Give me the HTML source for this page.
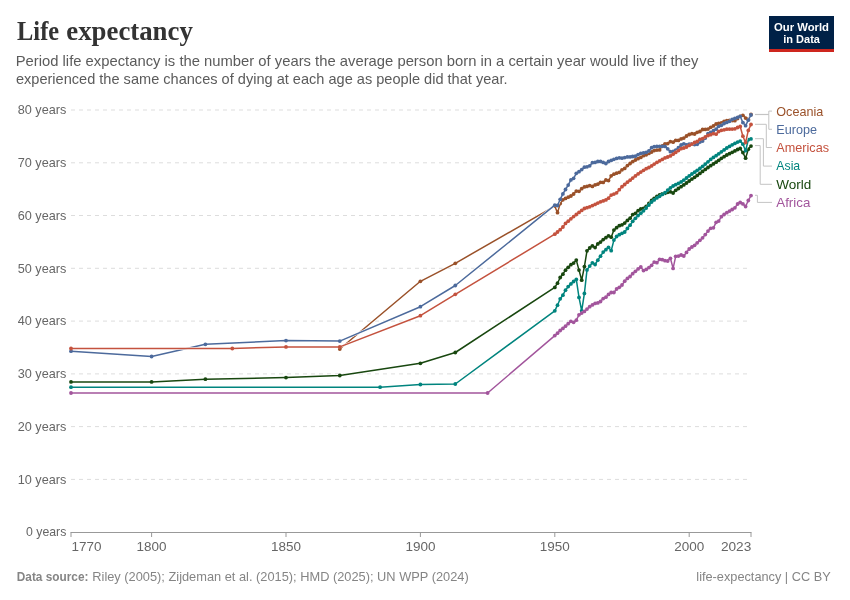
<!DOCTYPE html>
<html><head><meta charset="utf-8"><title>Life expectancy</title>
<style>
html,body{margin:0;padding:0;background:#fff;}
body{width:850px;height:600px;overflow:hidden;font-family:"Liberation Sans",sans-serif;}
svg{display:block;will-change:transform;}
text{font-family:"Liberation Sans",sans-serif;}
.serif{font-family:"Liberation Serif",serif;}
</style></head><body>
<svg width="850" height="600" viewBox="0 0 850 600">
<rect width="850" height="600" fill="#ffffff"/>
<g class="serif" font-size="27.5" font-weight="bold" fill="#333333"><text class="serif" x="17.1" y="40" textLength="42" lengthAdjust="spacingAndGlyphs">Life</text><text class="serif" x="66.3" y="40" textLength="126.5" lengthAdjust="spacingAndGlyphs">expectancy</text></g>
<text x="15.7" y="66" font-size="15" fill="#5b5b5b" textLength="682.8" lengthAdjust="spacingAndGlyphs">Period life expectancy is the number of years the average person born in a certain year would live if they</text>
<text x="15.9" y="84" font-size="15" fill="#5b5b5b" textLength="491.6" lengthAdjust="spacingAndGlyphs">experienced the same chances of dying at each age as people did that year.</text>
<g><rect x="769" y="16" width="65" height="36" fill="#002147"/><rect x="769" y="49" width="65" height="3" fill="#ce261e"/><text x="801.5" y="30.8" font-size="11.7" font-weight="bold" fill="#fff" text-anchor="middle" textLength="55" lengthAdjust="spacingAndGlyphs">Our World</text><text x="801.6" y="42.6" font-size="11.7" font-weight="bold" fill="#fff" text-anchor="middle" textLength="36.7" lengthAdjust="spacingAndGlyphs">in Data</text></g>
<g stroke="#dddddd" stroke-width="1" stroke-dasharray="4,4" fill="none"><path d="M71,479.4 H751"/><path d="M71,426.6 H751"/><path d="M71,373.9 H751"/><path d="M71,321.1 H751"/><path d="M71,268.3 H751"/><path d="M71,215.5 H751"/><path d="M71,162.8 H751"/><path d="M71,110 H751"/></g>
<g font-size="13.5" fill="#666666" text-anchor="end"><text x="66.3" y="536" textLength="40.3" lengthAdjust="spacingAndGlyphs">0 years</text><text x="66.3" y="484" textLength="48.6" lengthAdjust="spacingAndGlyphs">10 years</text><text x="66.3" y="431" textLength="48.6" lengthAdjust="spacingAndGlyphs">20 years</text><text x="66.3" y="378" textLength="48.6" lengthAdjust="spacingAndGlyphs">30 years</text><text x="66.3" y="325" textLength="48.6" lengthAdjust="spacingAndGlyphs">40 years</text><text x="66.3" y="273" textLength="48.6" lengthAdjust="spacingAndGlyphs">50 years</text><text x="66.3" y="220" textLength="48.6" lengthAdjust="spacingAndGlyphs">60 years</text><text x="66.3" y="167" textLength="48.6" lengthAdjust="spacingAndGlyphs">70 years</text><text x="66.3" y="114" textLength="48.6" lengthAdjust="spacingAndGlyphs">80 years</text></g>
<g stroke="#999999" stroke-width="1" fill="none"><path d="M70.5,532.5 H751.5"/><path d="M71,532.5 V537"/><path d="M151.6,532.5 V537"/><path d="M286,532.5 V537"/><path d="M420.4,532.5 V537"/><path d="M554.8,532.5 V537"/><path d="M689.2,532.5 V537"/><path d="M751,532.5 V537"/></g>
<g font-size="13.5" fill="#666666"><text x="71.6" y="551" text-anchor="start" textLength="30.0" lengthAdjust="spacingAndGlyphs">1770</text><text x="151.6" y="551" text-anchor="middle" textLength="30.0" lengthAdjust="spacingAndGlyphs">1800</text><text x="286" y="551" text-anchor="middle" textLength="30.0" lengthAdjust="spacingAndGlyphs">1850</text><text x="420.4" y="551" text-anchor="middle" textLength="30.0" lengthAdjust="spacingAndGlyphs">1900</text><text x="554.8" y="551" text-anchor="middle" textLength="30.0" lengthAdjust="spacingAndGlyphs">1950</text><text x="689.2" y="551" text-anchor="middle" textLength="30.0" lengthAdjust="spacingAndGlyphs">2000</text><text x="751.3" y="551" text-anchor="end" textLength="30.4" lengthAdjust="spacingAndGlyphs">2023</text></g>
<path d="M71,381.9 L151.6,381.9 L205.4,379.2 L286,377.6 L339.8,375.5 L420.4,363.3 L455.3,352.5 L554.8,287.4 L557.5,283.2 L560.2,277.5 L562.9,274.2 L565.5,270.2 L568.2,267.3 L570.9,264.7 L573.6,263.1 L576.3,260.1 L579,270.1 L581.7,280.2 L584.4,266.6 L587,250.8 L589.7,248 L592.4,245.8 L595.1,247.6 L597.8,243.9 L600.5,242.1 L603.2,239.6 L605.9,237.7 L608.5,235.8 L611.2,237.2 L613.9,230.1 L616.6,227.7 L619.3,225.7 L622,224.8 L624.7,223.1 L627.4,220.4 L630.1,218.2 L632.7,214.6 L635.4,213.3 L638.1,210.7 L640.8,209 L643.5,208.3 L646.2,206.3 L648.9,203.5 L651.6,200.5 L654.2,198.3 L656.9,196.3 L659.6,194.9 L662.3,193.9 L665,193.3 L667.7,192.3 L670.4,191.8 L673.1,193 L675.7,190.3 L678.4,188.5 L681.1,186.7 L683.8,184.9 L686.5,183 L689.2,181 L691.9,179.1 L694.6,177.3 L697.2,175.4 L699.9,173.4 L702.6,171.4 L705.3,169.4 L708,167.5 L710.7,165.7 L713.4,163.9 L716.1,162.2 L718.7,160.3 L721.4,158.3 L724.1,156.7 L726.8,155 L729.5,153.7 L732.2,152.3 L734.9,150.9 L737.6,149.5 L740.2,148.5 L742.9,152.6 L745.6,158.2 L748.3,149.2 L751,146.1" fill="none" stroke="#ffffff" stroke-width="2.5" stroke-linejoin="round" stroke-linecap="round"/><g stroke="#18470f" fill="#18470f"><path d="M71,381.9 L151.6,381.9 L205.4,379.2 L286,377.6 L339.8,375.5 L420.4,363.3 L455.3,352.5 L554.8,287.4 L557.5,283.2 L560.2,277.5 L562.9,274.2 L565.5,270.2 L568.2,267.3 L570.9,264.7 L573.6,263.1 L576.3,260.1 L579,270.1 L581.7,280.2 L584.4,266.6 L587,250.8 L589.7,248 L592.4,245.8 L595.1,247.6 L597.8,243.9 L600.5,242.1 L603.2,239.6 L605.9,237.7 L608.5,235.8 L611.2,237.2 L613.9,230.1 L616.6,227.7 L619.3,225.7 L622,224.8 L624.7,223.1 L627.4,220.4 L630.1,218.2 L632.7,214.6 L635.4,213.3 L638.1,210.7 L640.8,209 L643.5,208.3 L646.2,206.3 L648.9,203.5 L651.6,200.5 L654.2,198.3 L656.9,196.3 L659.6,194.9 L662.3,193.9 L665,193.3 L667.7,192.3 L670.4,191.8 L673.1,193 L675.7,190.3 L678.4,188.5 L681.1,186.7 L683.8,184.9 L686.5,183 L689.2,181 L691.9,179.1 L694.6,177.3 L697.2,175.4 L699.9,173.4 L702.6,171.4 L705.3,169.4 L708,167.5 L710.7,165.7 L713.4,163.9 L716.1,162.2 L718.7,160.3 L721.4,158.3 L724.1,156.7 L726.8,155 L729.5,153.7 L732.2,152.3 L734.9,150.9 L737.6,149.5 L740.2,148.5 L742.9,152.6 L745.6,158.2 L748.3,149.2 L751,146.1" fill="none" stroke-width="1.5" stroke-linejoin="round" stroke-linecap="round"/><g stroke="none"><circle cx="71" cy="381.9" r="1.9"/><circle cx="151.6" cy="381.9" r="1.9"/><circle cx="205.4" cy="379.2" r="1.9"/><circle cx="286" cy="377.6" r="1.9"/><circle cx="339.8" cy="375.5" r="1.9"/><circle cx="420.4" cy="363.3" r="1.9"/><circle cx="455.3" cy="352.5" r="1.9"/><circle cx="554.8" cy="287.4" r="1.9"/><circle cx="557.5" cy="283.2" r="1.9"/><circle cx="560.2" cy="277.5" r="1.9"/><circle cx="562.9" cy="274.2" r="1.9"/><circle cx="565.5" cy="270.2" r="1.9"/><circle cx="568.2" cy="267.3" r="1.9"/><circle cx="570.9" cy="264.7" r="1.9"/><circle cx="573.6" cy="263.1" r="1.9"/><circle cx="576.3" cy="260.1" r="1.9"/><circle cx="579" cy="270.1" r="1.9"/><circle cx="581.7" cy="280.2" r="1.9"/><circle cx="584.4" cy="266.6" r="1.9"/><circle cx="587" cy="250.8" r="1.9"/><circle cx="589.7" cy="248" r="1.9"/><circle cx="592.4" cy="245.8" r="1.9"/><circle cx="595.1" cy="247.6" r="1.9"/><circle cx="597.8" cy="243.9" r="1.9"/><circle cx="600.5" cy="242.1" r="1.9"/><circle cx="603.2" cy="239.6" r="1.9"/><circle cx="605.9" cy="237.7" r="1.9"/><circle cx="608.5" cy="235.8" r="1.9"/><circle cx="611.2" cy="237.2" r="1.9"/><circle cx="613.9" cy="230.1" r="1.9"/><circle cx="616.6" cy="227.7" r="1.9"/><circle cx="619.3" cy="225.7" r="1.9"/><circle cx="622" cy="224.8" r="1.9"/><circle cx="624.7" cy="223.1" r="1.9"/><circle cx="627.4" cy="220.4" r="1.9"/><circle cx="630.1" cy="218.2" r="1.9"/><circle cx="632.7" cy="214.6" r="1.9"/><circle cx="635.4" cy="213.3" r="1.9"/><circle cx="638.1" cy="210.7" r="1.9"/><circle cx="640.8" cy="209" r="1.9"/><circle cx="643.5" cy="208.3" r="1.9"/><circle cx="646.2" cy="206.3" r="1.9"/><circle cx="648.9" cy="203.5" r="1.9"/><circle cx="651.6" cy="200.5" r="1.9"/><circle cx="654.2" cy="198.3" r="1.9"/><circle cx="656.9" cy="196.3" r="1.9"/><circle cx="659.6" cy="194.9" r="1.9"/><circle cx="662.3" cy="193.9" r="1.9"/><circle cx="665" cy="193.3" r="1.9"/><circle cx="667.7" cy="192.3" r="1.9"/><circle cx="670.4" cy="191.8" r="1.9"/><circle cx="673.1" cy="193" r="1.9"/><circle cx="675.7" cy="190.3" r="1.9"/><circle cx="678.4" cy="188.5" r="1.9"/><circle cx="681.1" cy="186.7" r="1.9"/><circle cx="683.8" cy="184.9" r="1.9"/><circle cx="686.5" cy="183" r="1.9"/><circle cx="689.2" cy="181" r="1.9"/><circle cx="691.9" cy="179.1" r="1.9"/><circle cx="694.6" cy="177.3" r="1.9"/><circle cx="697.2" cy="175.4" r="1.9"/><circle cx="699.9" cy="173.4" r="1.9"/><circle cx="702.6" cy="171.4" r="1.9"/><circle cx="705.3" cy="169.4" r="1.9"/><circle cx="708" cy="167.5" r="1.9"/><circle cx="710.7" cy="165.7" r="1.9"/><circle cx="713.4" cy="163.9" r="1.9"/><circle cx="716.1" cy="162.2" r="1.9"/><circle cx="718.7" cy="160.3" r="1.9"/><circle cx="721.4" cy="158.3" r="1.9"/><circle cx="724.1" cy="156.7" r="1.9"/><circle cx="726.8" cy="155" r="1.9"/><circle cx="729.5" cy="153.7" r="1.9"/><circle cx="732.2" cy="152.3" r="1.9"/><circle cx="734.9" cy="150.9" r="1.9"/><circle cx="737.6" cy="149.5" r="1.9"/><circle cx="740.2" cy="148.5" r="1.9"/><circle cx="742.9" cy="152.6" r="1.9"/><circle cx="745.6" cy="158.2" r="1.9"/><circle cx="748.3" cy="149.2" r="1.9"/><circle cx="751" cy="146.1" r="1.9"/></g></g>
<path d="M339.8,349 L420.4,281.3 L455.3,263.3 L554.8,206.2 L557.5,212.7 L560.2,203.6 L562.9,199.8 L565.5,198.4 L568.2,197.2 L570.9,196 L573.6,194 L576.3,191.1 L579,191.3 L581.7,188.7 L584.4,186.9 L587,186.4 L589.7,185.6 L592.4,186.4 L595.1,184.9 L597.8,184.2 L600.5,182.3 L603.2,182.4 L605.9,180 L608.5,180.6 L611.2,175.8 L613.9,174.2 L616.6,173.2 L619.3,172.3 L622,169.8 L624.7,168.4 L627.4,165.6 L630.1,163.5 L632.7,161.6 L635.4,160 L638.1,158.7 L640.8,157.4 L643.5,155.7 L646.2,154.8 L648.9,153.4 L651.6,152 L654.2,150.6 L656.9,150.1 L659.6,149.9 L662.3,145.9 L665,143.8 L667.7,143.6 L670.4,141.6 L673.1,142.2 L675.7,140.4 L678.4,140.4 L681.1,138.9 L683.8,138.1 L686.5,136 L689.2,134.5 L691.9,133.7 L694.6,134 L697.2,132.3 L699.9,131.5 L702.6,129.5 L705.3,129.4 L708,129.1 L710.7,127.3 L713.4,125.9 L716.1,124 L718.7,123.5 L721.4,122.8 L724.1,121.3 L726.8,120.7 L729.5,120.3 L732.2,120.5 L734.9,120.7 L737.6,118.5 L740.2,116.3 L742.9,115.3 L745.6,118.1 L748.3,119.2 L751,114.5" fill="none" stroke="#ffffff" stroke-width="2.5" stroke-linejoin="round" stroke-linecap="round"/><g stroke="#9a5129" fill="#9a5129"><path d="M339.8,349 L420.4,281.3 L455.3,263.3 L554.8,206.2 L557.5,212.7 L560.2,203.6 L562.9,199.8 L565.5,198.4 L568.2,197.2 L570.9,196 L573.6,194 L576.3,191.1 L579,191.3 L581.7,188.7 L584.4,186.9 L587,186.4 L589.7,185.6 L592.4,186.4 L595.1,184.9 L597.8,184.2 L600.5,182.3 L603.2,182.4 L605.9,180 L608.5,180.6 L611.2,175.8 L613.9,174.2 L616.6,173.2 L619.3,172.3 L622,169.8 L624.7,168.4 L627.4,165.6 L630.1,163.5 L632.7,161.6 L635.4,160 L638.1,158.7 L640.8,157.4 L643.5,155.7 L646.2,154.8 L648.9,153.4 L651.6,152 L654.2,150.6 L656.9,150.1 L659.6,149.9 L662.3,145.9 L665,143.8 L667.7,143.6 L670.4,141.6 L673.1,142.2 L675.7,140.4 L678.4,140.4 L681.1,138.9 L683.8,138.1 L686.5,136 L689.2,134.5 L691.9,133.7 L694.6,134 L697.2,132.3 L699.9,131.5 L702.6,129.5 L705.3,129.4 L708,129.1 L710.7,127.3 L713.4,125.9 L716.1,124 L718.7,123.5 L721.4,122.8 L724.1,121.3 L726.8,120.7 L729.5,120.3 L732.2,120.5 L734.9,120.7 L737.6,118.5 L740.2,116.3 L742.9,115.3 L745.6,118.1 L748.3,119.2 L751,114.5" fill="none" stroke-width="1.5" stroke-linejoin="round" stroke-linecap="round"/><g stroke="none"><circle cx="339.8" cy="349" r="1.9"/><circle cx="420.4" cy="281.3" r="1.9"/><circle cx="455.3" cy="263.3" r="1.9"/><circle cx="554.8" cy="206.2" r="1.9"/><circle cx="557.5" cy="212.7" r="1.9"/><circle cx="560.2" cy="203.6" r="1.9"/><circle cx="562.9" cy="199.8" r="1.9"/><circle cx="565.5" cy="198.4" r="1.9"/><circle cx="568.2" cy="197.2" r="1.9"/><circle cx="570.9" cy="196" r="1.9"/><circle cx="573.6" cy="194" r="1.9"/><circle cx="576.3" cy="191.1" r="1.9"/><circle cx="579" cy="191.3" r="1.9"/><circle cx="581.7" cy="188.7" r="1.9"/><circle cx="584.4" cy="186.9" r="1.9"/><circle cx="587" cy="186.4" r="1.9"/><circle cx="589.7" cy="185.6" r="1.9"/><circle cx="592.4" cy="186.4" r="1.9"/><circle cx="595.1" cy="184.9" r="1.9"/><circle cx="597.8" cy="184.2" r="1.9"/><circle cx="600.5" cy="182.3" r="1.9"/><circle cx="603.2" cy="182.4" r="1.9"/><circle cx="605.9" cy="180" r="1.9"/><circle cx="608.5" cy="180.6" r="1.9"/><circle cx="611.2" cy="175.8" r="1.9"/><circle cx="613.9" cy="174.2" r="1.9"/><circle cx="616.6" cy="173.2" r="1.9"/><circle cx="619.3" cy="172.3" r="1.9"/><circle cx="622" cy="169.8" r="1.9"/><circle cx="624.7" cy="168.4" r="1.9"/><circle cx="627.4" cy="165.6" r="1.9"/><circle cx="630.1" cy="163.5" r="1.9"/><circle cx="632.7" cy="161.6" r="1.9"/><circle cx="635.4" cy="160" r="1.9"/><circle cx="638.1" cy="158.7" r="1.9"/><circle cx="640.8" cy="157.4" r="1.9"/><circle cx="643.5" cy="155.7" r="1.9"/><circle cx="646.2" cy="154.8" r="1.9"/><circle cx="648.9" cy="153.4" r="1.9"/><circle cx="651.6" cy="152" r="1.9"/><circle cx="654.2" cy="150.6" r="1.9"/><circle cx="656.9" cy="150.1" r="1.9"/><circle cx="659.6" cy="149.9" r="1.9"/><circle cx="662.3" cy="145.9" r="1.9"/><circle cx="665" cy="143.8" r="1.9"/><circle cx="667.7" cy="143.6" r="1.9"/><circle cx="670.4" cy="141.6" r="1.9"/><circle cx="673.1" cy="142.2" r="1.9"/><circle cx="675.7" cy="140.4" r="1.9"/><circle cx="678.4" cy="140.4" r="1.9"/><circle cx="681.1" cy="138.9" r="1.9"/><circle cx="683.8" cy="138.1" r="1.9"/><circle cx="686.5" cy="136" r="1.9"/><circle cx="689.2" cy="134.5" r="1.9"/><circle cx="691.9" cy="133.7" r="1.9"/><circle cx="694.6" cy="134" r="1.9"/><circle cx="697.2" cy="132.3" r="1.9"/><circle cx="699.9" cy="131.5" r="1.9"/><circle cx="702.6" cy="129.5" r="1.9"/><circle cx="705.3" cy="129.4" r="1.9"/><circle cx="708" cy="129.1" r="1.9"/><circle cx="710.7" cy="127.3" r="1.9"/><circle cx="713.4" cy="125.9" r="1.9"/><circle cx="716.1" cy="124" r="1.9"/><circle cx="718.7" cy="123.5" r="1.9"/><circle cx="721.4" cy="122.8" r="1.9"/><circle cx="724.1" cy="121.3" r="1.9"/><circle cx="726.8" cy="120.7" r="1.9"/><circle cx="729.5" cy="120.3" r="1.9"/><circle cx="732.2" cy="120.5" r="1.9"/><circle cx="734.9" cy="120.7" r="1.9"/><circle cx="737.6" cy="118.5" r="1.9"/><circle cx="740.2" cy="116.3" r="1.9"/><circle cx="742.9" cy="115.3" r="1.9"/><circle cx="745.6" cy="118.1" r="1.9"/><circle cx="748.3" cy="119.2" r="1.9"/><circle cx="751" cy="114.5" r="1.9"/></g></g>
<path d="M71,351.2 L151.6,356.5 L205.4,344.3 L286,340.6 L339.8,341.1 L420.4,306.7 L455.3,285.5 L554.8,205.2 L557.5,205.5 L560.2,199.3 L562.9,193.9 L565.5,189.5 L568.2,185.1 L570.9,179.9 L573.6,178.3 L576.3,173.3 L579,171.7 L581.7,169.6 L584.4,167.2 L587,166.8 L589.7,165.8 L592.4,162.7 L595.1,162.4 L597.8,161.5 L600.5,161.4 L603.2,162.4 L605.9,163.5 L608.5,161.5 L611.2,160.4 L613.9,159.3 L616.6,158.4 L619.3,157.8 L622,158.2 L624.7,157.6 L627.4,156.9 L630.1,156.9 L632.7,156.5 L635.4,156.2 L638.1,154.6 L640.8,153.3 L643.5,152.9 L646.2,152.3 L648.9,150.8 L651.6,147.7 L654.2,146.7 L656.9,146.4 L659.6,146.3 L662.3,146.3 L665,146.4 L667.7,148.8 L670.4,151.7 L673.1,151.5 L675.7,150.1 L678.4,147.7 L681.1,145 L683.8,143.8 L686.5,144.8 L689.2,144.1 L691.9,143.8 L694.6,144.5 L697.2,144.3 L699.9,142.1 L702.6,141.1 L705.3,138.1 L708,133.7 L710.7,132.5 L713.4,130.7 L716.1,129.2 L718.7,126.3 L721.4,125.3 L724.1,123.5 L726.8,122.4 L729.5,121.3 L732.2,119.3 L734.9,118.3 L737.6,117.5 L740.2,116.3 L742.9,122.6 L745.6,125.7 L748.3,120.2 L751,115" fill="none" stroke="#ffffff" stroke-width="2.5" stroke-linejoin="round" stroke-linecap="round"/><g stroke="#4c6a9c" fill="#4c6a9c"><path d="M71,351.2 L151.6,356.5 L205.4,344.3 L286,340.6 L339.8,341.1 L420.4,306.7 L455.3,285.5 L554.8,205.2 L557.5,205.5 L560.2,199.3 L562.9,193.9 L565.5,189.5 L568.2,185.1 L570.9,179.9 L573.6,178.3 L576.3,173.3 L579,171.7 L581.7,169.6 L584.4,167.2 L587,166.8 L589.7,165.8 L592.4,162.7 L595.1,162.4 L597.8,161.5 L600.5,161.4 L603.2,162.4 L605.9,163.5 L608.5,161.5 L611.2,160.4 L613.9,159.3 L616.6,158.4 L619.3,157.8 L622,158.2 L624.7,157.6 L627.4,156.9 L630.1,156.9 L632.7,156.5 L635.4,156.2 L638.1,154.6 L640.8,153.3 L643.5,152.9 L646.2,152.3 L648.9,150.8 L651.6,147.7 L654.2,146.7 L656.9,146.4 L659.6,146.3 L662.3,146.3 L665,146.4 L667.7,148.8 L670.4,151.7 L673.1,151.5 L675.7,150.1 L678.4,147.7 L681.1,145 L683.8,143.8 L686.5,144.8 L689.2,144.1 L691.9,143.8 L694.6,144.5 L697.2,144.3 L699.9,142.1 L702.6,141.1 L705.3,138.1 L708,133.7 L710.7,132.5 L713.4,130.7 L716.1,129.2 L718.7,126.3 L721.4,125.3 L724.1,123.5 L726.8,122.4 L729.5,121.3 L732.2,119.3 L734.9,118.3 L737.6,117.5 L740.2,116.3 L742.9,122.6 L745.6,125.7 L748.3,120.2 L751,115" fill="none" stroke-width="1.5" stroke-linejoin="round" stroke-linecap="round"/><g stroke="none"><circle cx="71" cy="351.2" r="1.9"/><circle cx="151.6" cy="356.5" r="1.9"/><circle cx="205.4" cy="344.3" r="1.9"/><circle cx="286" cy="340.6" r="1.9"/><circle cx="339.8" cy="341.1" r="1.9"/><circle cx="420.4" cy="306.7" r="1.9"/><circle cx="455.3" cy="285.5" r="1.9"/><circle cx="554.8" cy="205.2" r="1.9"/><circle cx="557.5" cy="205.5" r="1.9"/><circle cx="560.2" cy="199.3" r="1.9"/><circle cx="562.9" cy="193.9" r="1.9"/><circle cx="565.5" cy="189.5" r="1.9"/><circle cx="568.2" cy="185.1" r="1.9"/><circle cx="570.9" cy="179.9" r="1.9"/><circle cx="573.6" cy="178.3" r="1.9"/><circle cx="576.3" cy="173.3" r="1.9"/><circle cx="579" cy="171.7" r="1.9"/><circle cx="581.7" cy="169.6" r="1.9"/><circle cx="584.4" cy="167.2" r="1.9"/><circle cx="587" cy="166.8" r="1.9"/><circle cx="589.7" cy="165.8" r="1.9"/><circle cx="592.4" cy="162.7" r="1.9"/><circle cx="595.1" cy="162.4" r="1.9"/><circle cx="597.8" cy="161.5" r="1.9"/><circle cx="600.5" cy="161.4" r="1.9"/><circle cx="603.2" cy="162.4" r="1.9"/><circle cx="605.9" cy="163.5" r="1.9"/><circle cx="608.5" cy="161.5" r="1.9"/><circle cx="611.2" cy="160.4" r="1.9"/><circle cx="613.9" cy="159.3" r="1.9"/><circle cx="616.6" cy="158.4" r="1.9"/><circle cx="619.3" cy="157.8" r="1.9"/><circle cx="622" cy="158.2" r="1.9"/><circle cx="624.7" cy="157.6" r="1.9"/><circle cx="627.4" cy="156.9" r="1.9"/><circle cx="630.1" cy="156.9" r="1.9"/><circle cx="632.7" cy="156.5" r="1.9"/><circle cx="635.4" cy="156.2" r="1.9"/><circle cx="638.1" cy="154.6" r="1.9"/><circle cx="640.8" cy="153.3" r="1.9"/><circle cx="643.5" cy="152.9" r="1.9"/><circle cx="646.2" cy="152.3" r="1.9"/><circle cx="648.9" cy="150.8" r="1.9"/><circle cx="651.6" cy="147.7" r="1.9"/><circle cx="654.2" cy="146.7" r="1.9"/><circle cx="656.9" cy="146.4" r="1.9"/><circle cx="659.6" cy="146.3" r="1.9"/><circle cx="662.3" cy="146.3" r="1.9"/><circle cx="665" cy="146.4" r="1.9"/><circle cx="667.7" cy="148.8" r="1.9"/><circle cx="670.4" cy="151.7" r="1.9"/><circle cx="673.1" cy="151.5" r="1.9"/><circle cx="675.7" cy="150.1" r="1.9"/><circle cx="678.4" cy="147.7" r="1.9"/><circle cx="681.1" cy="145" r="1.9"/><circle cx="683.8" cy="143.8" r="1.9"/><circle cx="686.5" cy="144.8" r="1.9"/><circle cx="689.2" cy="144.1" r="1.9"/><circle cx="691.9" cy="143.8" r="1.9"/><circle cx="694.6" cy="144.5" r="1.9"/><circle cx="697.2" cy="144.3" r="1.9"/><circle cx="699.9" cy="142.1" r="1.9"/><circle cx="702.6" cy="141.1" r="1.9"/><circle cx="705.3" cy="138.1" r="1.9"/><circle cx="708" cy="133.7" r="1.9"/><circle cx="710.7" cy="132.5" r="1.9"/><circle cx="713.4" cy="130.7" r="1.9"/><circle cx="716.1" cy="129.2" r="1.9"/><circle cx="718.7" cy="126.3" r="1.9"/><circle cx="721.4" cy="125.3" r="1.9"/><circle cx="724.1" cy="123.5" r="1.9"/><circle cx="726.8" cy="122.4" r="1.9"/><circle cx="729.5" cy="121.3" r="1.9"/><circle cx="732.2" cy="119.3" r="1.9"/><circle cx="734.9" cy="118.3" r="1.9"/><circle cx="737.6" cy="117.5" r="1.9"/><circle cx="740.2" cy="116.3" r="1.9"/><circle cx="742.9" cy="122.6" r="1.9"/><circle cx="745.6" cy="125.7" r="1.9"/><circle cx="748.3" cy="120.2" r="1.9"/><circle cx="751" cy="115" r="1.9"/></g></g>
<path d="M71,387.2 L380.1,387.2 L420.4,384.5 L455.3,384 L554.8,310.8 L557.5,305.2 L560.2,298.8 L562.9,295.2 L565.5,290.2 L568.2,286.6 L570.9,283.9 L573.6,281.5 L576.3,279.4 L579,297.4 L581.7,310.8 L584.4,293.4 L587,269.9 L589.7,266.1 L592.4,262.8 L595.1,264.5 L597.8,260.2 L600.5,256.2 L603.2,252.1 L605.9,249.7 L608.5,247.3 L611.2,250.7 L613.9,240.1 L616.6,236.5 L619.3,234.7 L622,233.3 L624.7,232 L627.4,228.4 L630.1,225.2 L632.7,221.3 L635.4,218.3 L638.1,215.6 L640.8,213.2 L643.5,210.8 L646.2,208 L648.9,205 L651.6,202 L654.2,199.9 L656.9,197.9 L659.6,196.3 L662.3,194.4 L665,192.6 L667.7,190.1 L670.4,187.9 L673.1,186 L675.7,184.7 L678.4,183.3 L681.1,181.9 L683.8,180.1 L686.5,178 L689.2,175.9 L691.9,174 L694.6,172.2 L697.2,170.3 L699.9,168.5 L702.6,166.3 L705.3,164.1 L708,161.8 L710.7,159.4 L713.4,157.4 L716.1,155.7 L718.7,153.8 L721.4,151.8 L724.1,149.9 L726.8,148 L729.5,146.4 L732.2,144.8 L734.9,143.4 L737.6,142.1 L740.2,141.1 L742.9,144.2 L745.6,150.7 L748.3,139.7 L751,138.9" fill="none" stroke="#ffffff" stroke-width="2.5" stroke-linejoin="round" stroke-linecap="round"/><g stroke="#00847e" fill="#00847e"><path d="M71,387.2 L380.1,387.2 L420.4,384.5 L455.3,384 L554.8,310.8 L557.5,305.2 L560.2,298.8 L562.9,295.2 L565.5,290.2 L568.2,286.6 L570.9,283.9 L573.6,281.5 L576.3,279.4 L579,297.4 L581.7,310.8 L584.4,293.4 L587,269.9 L589.7,266.1 L592.4,262.8 L595.1,264.5 L597.8,260.2 L600.5,256.2 L603.2,252.1 L605.9,249.7 L608.5,247.3 L611.2,250.7 L613.9,240.1 L616.6,236.5 L619.3,234.7 L622,233.3 L624.7,232 L627.4,228.4 L630.1,225.2 L632.7,221.3 L635.4,218.3 L638.1,215.6 L640.8,213.2 L643.5,210.8 L646.2,208 L648.9,205 L651.6,202 L654.2,199.9 L656.9,197.9 L659.6,196.3 L662.3,194.4 L665,192.6 L667.7,190.1 L670.4,187.9 L673.1,186 L675.7,184.7 L678.4,183.3 L681.1,181.9 L683.8,180.1 L686.5,178 L689.2,175.9 L691.9,174 L694.6,172.2 L697.2,170.3 L699.9,168.5 L702.6,166.3 L705.3,164.1 L708,161.8 L710.7,159.4 L713.4,157.4 L716.1,155.7 L718.7,153.8 L721.4,151.8 L724.1,149.9 L726.8,148 L729.5,146.4 L732.2,144.8 L734.9,143.4 L737.6,142.1 L740.2,141.1 L742.9,144.2 L745.6,150.7 L748.3,139.7 L751,138.9" fill="none" stroke-width="1.5" stroke-linejoin="round" stroke-linecap="round"/><g stroke="none"><circle cx="71" cy="387.2" r="1.9"/><circle cx="380.1" cy="387.2" r="1.9"/><circle cx="420.4" cy="384.5" r="1.9"/><circle cx="455.3" cy="384" r="1.9"/><circle cx="554.8" cy="310.8" r="1.9"/><circle cx="557.5" cy="305.2" r="1.9"/><circle cx="560.2" cy="298.8" r="1.9"/><circle cx="562.9" cy="295.2" r="1.9"/><circle cx="565.5" cy="290.2" r="1.9"/><circle cx="568.2" cy="286.6" r="1.9"/><circle cx="570.9" cy="283.9" r="1.9"/><circle cx="573.6" cy="281.5" r="1.9"/><circle cx="576.3" cy="279.4" r="1.9"/><circle cx="579" cy="297.4" r="1.9"/><circle cx="581.7" cy="310.8" r="1.9"/><circle cx="584.4" cy="293.4" r="1.9"/><circle cx="587" cy="269.9" r="1.9"/><circle cx="589.7" cy="266.1" r="1.9"/><circle cx="592.4" cy="262.8" r="1.9"/><circle cx="595.1" cy="264.5" r="1.9"/><circle cx="597.8" cy="260.2" r="1.9"/><circle cx="600.5" cy="256.2" r="1.9"/><circle cx="603.2" cy="252.1" r="1.9"/><circle cx="605.9" cy="249.7" r="1.9"/><circle cx="608.5" cy="247.3" r="1.9"/><circle cx="611.2" cy="250.7" r="1.9"/><circle cx="613.9" cy="240.1" r="1.9"/><circle cx="616.6" cy="236.5" r="1.9"/><circle cx="619.3" cy="234.7" r="1.9"/><circle cx="622" cy="233.3" r="1.9"/><circle cx="624.7" cy="232" r="1.9"/><circle cx="627.4" cy="228.4" r="1.9"/><circle cx="630.1" cy="225.2" r="1.9"/><circle cx="632.7" cy="221.3" r="1.9"/><circle cx="635.4" cy="218.3" r="1.9"/><circle cx="638.1" cy="215.6" r="1.9"/><circle cx="640.8" cy="213.2" r="1.9"/><circle cx="643.5" cy="210.8" r="1.9"/><circle cx="646.2" cy="208" r="1.9"/><circle cx="648.9" cy="205" r="1.9"/><circle cx="651.6" cy="202" r="1.9"/><circle cx="654.2" cy="199.9" r="1.9"/><circle cx="656.9" cy="197.9" r="1.9"/><circle cx="659.6" cy="196.3" r="1.9"/><circle cx="662.3" cy="194.4" r="1.9"/><circle cx="665" cy="192.6" r="1.9"/><circle cx="667.7" cy="190.1" r="1.9"/><circle cx="670.4" cy="187.9" r="1.9"/><circle cx="673.1" cy="186" r="1.9"/><circle cx="675.7" cy="184.7" r="1.9"/><circle cx="678.4" cy="183.3" r="1.9"/><circle cx="681.1" cy="181.9" r="1.9"/><circle cx="683.8" cy="180.1" r="1.9"/><circle cx="686.5" cy="178" r="1.9"/><circle cx="689.2" cy="175.9" r="1.9"/><circle cx="691.9" cy="174" r="1.9"/><circle cx="694.6" cy="172.2" r="1.9"/><circle cx="697.2" cy="170.3" r="1.9"/><circle cx="699.9" cy="168.5" r="1.9"/><circle cx="702.6" cy="166.3" r="1.9"/><circle cx="705.3" cy="164.1" r="1.9"/><circle cx="708" cy="161.8" r="1.9"/><circle cx="710.7" cy="159.4" r="1.9"/><circle cx="713.4" cy="157.4" r="1.9"/><circle cx="716.1" cy="155.7" r="1.9"/><circle cx="718.7" cy="153.8" r="1.9"/><circle cx="721.4" cy="151.8" r="1.9"/><circle cx="724.1" cy="149.9" r="1.9"/><circle cx="726.8" cy="148" r="1.9"/><circle cx="729.5" cy="146.4" r="1.9"/><circle cx="732.2" cy="144.8" r="1.9"/><circle cx="734.9" cy="143.4" r="1.9"/><circle cx="737.6" cy="142.1" r="1.9"/><circle cx="740.2" cy="141.1" r="1.9"/><circle cx="742.9" cy="144.2" r="1.9"/><circle cx="745.6" cy="150.7" r="1.9"/><circle cx="748.3" cy="139.7" r="1.9"/><circle cx="751" cy="138.9" r="1.9"/></g></g>
<path d="M71,348.5 L232.3,348.5 L286,346.9 L339.8,346.9 L420.4,315.7 L455.3,294.3 L554.8,234.2 L557.5,232 L560.2,229.7 L562.9,227 L565.5,223.4 L568.2,221.2 L570.9,218.8 L573.6,216.6 L576.3,214.5 L579,212.4 L581.7,210.4 L584.4,208.5 L587,207.7 L589.7,206.8 L592.4,205.6 L595.1,204.4 L597.8,203.1 L600.5,201.8 L603.2,200.9 L605.9,199.9 L608.5,198.2 L611.2,195.1 L613.9,194.1 L616.6,192.8 L619.3,189.7 L622,186.7 L624.7,184.5 L627.4,182.2 L630.1,180.2 L632.7,178.1 L635.4,175.9 L638.1,173.9 L640.8,172.1 L643.5,170.3 L646.2,168.7 L648.9,167.5 L651.6,165.9 L654.2,164.1 L656.9,162.4 L659.6,160.9 L662.3,159.4 L665,157.9 L667.7,157 L670.4,155.9 L673.1,154.2 L675.7,152.4 L678.4,150.6 L681.1,148.7 L683.8,148 L686.5,147 L689.2,145.4 L691.9,144.1 L694.6,142.5 L697.2,141.5 L699.9,139.3 L702.6,138.6 L705.3,136.8 L708,135.5 L710.7,134.7 L713.4,133.6 L716.1,134.2 L718.7,131.5 L721.4,130.3 L724.1,129.8 L726.8,129.2 L729.5,129.1 L732.2,129.1 L734.9,128.8 L737.6,127.5 L740.2,126.5 L742.9,136.2 L745.6,142.6 L748.3,130.4 L751,124.5" fill="none" stroke="#ffffff" stroke-width="2.5" stroke-linejoin="round" stroke-linecap="round"/><g stroke="#c4523e" fill="#c4523e"><path d="M71,348.5 L232.3,348.5 L286,346.9 L339.8,346.9 L420.4,315.7 L455.3,294.3 L554.8,234.2 L557.5,232 L560.2,229.7 L562.9,227 L565.5,223.4 L568.2,221.2 L570.9,218.8 L573.6,216.6 L576.3,214.5 L579,212.4 L581.7,210.4 L584.4,208.5 L587,207.7 L589.7,206.8 L592.4,205.6 L595.1,204.4 L597.8,203.1 L600.5,201.8 L603.2,200.9 L605.9,199.9 L608.5,198.2 L611.2,195.1 L613.9,194.1 L616.6,192.8 L619.3,189.7 L622,186.7 L624.7,184.5 L627.4,182.2 L630.1,180.2 L632.7,178.1 L635.4,175.9 L638.1,173.9 L640.8,172.1 L643.5,170.3 L646.2,168.7 L648.9,167.5 L651.6,165.9 L654.2,164.1 L656.9,162.4 L659.6,160.9 L662.3,159.4 L665,157.9 L667.7,157 L670.4,155.9 L673.1,154.2 L675.7,152.4 L678.4,150.6 L681.1,148.7 L683.8,148 L686.5,147 L689.2,145.4 L691.9,144.1 L694.6,142.5 L697.2,141.5 L699.9,139.3 L702.6,138.6 L705.3,136.8 L708,135.5 L710.7,134.7 L713.4,133.6 L716.1,134.2 L718.7,131.5 L721.4,130.3 L724.1,129.8 L726.8,129.2 L729.5,129.1 L732.2,129.1 L734.9,128.8 L737.6,127.5 L740.2,126.5 L742.9,136.2 L745.6,142.6 L748.3,130.4 L751,124.5" fill="none" stroke-width="1.5" stroke-linejoin="round" stroke-linecap="round"/><g stroke="none"><circle cx="71" cy="348.5" r="1.9"/><circle cx="232.3" cy="348.5" r="1.9"/><circle cx="286" cy="346.9" r="1.9"/><circle cx="339.8" cy="346.9" r="1.9"/><circle cx="420.4" cy="315.7" r="1.9"/><circle cx="455.3" cy="294.3" r="1.9"/><circle cx="554.8" cy="234.2" r="1.9"/><circle cx="557.5" cy="232" r="1.9"/><circle cx="560.2" cy="229.7" r="1.9"/><circle cx="562.9" cy="227" r="1.9"/><circle cx="565.5" cy="223.4" r="1.9"/><circle cx="568.2" cy="221.2" r="1.9"/><circle cx="570.9" cy="218.8" r="1.9"/><circle cx="573.6" cy="216.6" r="1.9"/><circle cx="576.3" cy="214.5" r="1.9"/><circle cx="579" cy="212.4" r="1.9"/><circle cx="581.7" cy="210.4" r="1.9"/><circle cx="584.4" cy="208.5" r="1.9"/><circle cx="587" cy="207.7" r="1.9"/><circle cx="589.7" cy="206.8" r="1.9"/><circle cx="592.4" cy="205.6" r="1.9"/><circle cx="595.1" cy="204.4" r="1.9"/><circle cx="597.8" cy="203.1" r="1.9"/><circle cx="600.5" cy="201.8" r="1.9"/><circle cx="603.2" cy="200.9" r="1.9"/><circle cx="605.9" cy="199.9" r="1.9"/><circle cx="608.5" cy="198.2" r="1.9"/><circle cx="611.2" cy="195.1" r="1.9"/><circle cx="613.9" cy="194.1" r="1.9"/><circle cx="616.6" cy="192.8" r="1.9"/><circle cx="619.3" cy="189.7" r="1.9"/><circle cx="622" cy="186.7" r="1.9"/><circle cx="624.7" cy="184.5" r="1.9"/><circle cx="627.4" cy="182.2" r="1.9"/><circle cx="630.1" cy="180.2" r="1.9"/><circle cx="632.7" cy="178.1" r="1.9"/><circle cx="635.4" cy="175.9" r="1.9"/><circle cx="638.1" cy="173.9" r="1.9"/><circle cx="640.8" cy="172.1" r="1.9"/><circle cx="643.5" cy="170.3" r="1.9"/><circle cx="646.2" cy="168.7" r="1.9"/><circle cx="648.9" cy="167.5" r="1.9"/><circle cx="651.6" cy="165.9" r="1.9"/><circle cx="654.2" cy="164.1" r="1.9"/><circle cx="656.9" cy="162.4" r="1.9"/><circle cx="659.6" cy="160.9" r="1.9"/><circle cx="662.3" cy="159.4" r="1.9"/><circle cx="665" cy="157.9" r="1.9"/><circle cx="667.7" cy="157" r="1.9"/><circle cx="670.4" cy="155.9" r="1.9"/><circle cx="673.1" cy="154.2" r="1.9"/><circle cx="675.7" cy="152.4" r="1.9"/><circle cx="678.4" cy="150.6" r="1.9"/><circle cx="681.1" cy="148.7" r="1.9"/><circle cx="683.8" cy="148" r="1.9"/><circle cx="686.5" cy="147" r="1.9"/><circle cx="689.2" cy="145.4" r="1.9"/><circle cx="691.9" cy="144.1" r="1.9"/><circle cx="694.6" cy="142.5" r="1.9"/><circle cx="697.2" cy="141.5" r="1.9"/><circle cx="699.9" cy="139.3" r="1.9"/><circle cx="702.6" cy="138.6" r="1.9"/><circle cx="705.3" cy="136.8" r="1.9"/><circle cx="708" cy="135.5" r="1.9"/><circle cx="710.7" cy="134.7" r="1.9"/><circle cx="713.4" cy="133.6" r="1.9"/><circle cx="716.1" cy="134.2" r="1.9"/><circle cx="718.7" cy="131.5" r="1.9"/><circle cx="721.4" cy="130.3" r="1.9"/><circle cx="724.1" cy="129.8" r="1.9"/><circle cx="726.8" cy="129.2" r="1.9"/><circle cx="729.5" cy="129.1" r="1.9"/><circle cx="732.2" cy="129.1" r="1.9"/><circle cx="734.9" cy="128.8" r="1.9"/><circle cx="737.6" cy="127.5" r="1.9"/><circle cx="740.2" cy="126.5" r="1.9"/><circle cx="742.9" cy="136.2" r="1.9"/><circle cx="745.6" cy="142.6" r="1.9"/><circle cx="748.3" cy="130.4" r="1.9"/><circle cx="751" cy="124.5" r="1.9"/></g></g>
<path d="M71,393 L487.6,393 L554.8,335.6 L557.5,333.2 L560.2,330.5 L562.9,328.4 L565.5,326.2 L568.2,323.7 L570.9,321.3 L573.6,322.3 L576.3,320.2 L579,314.8 L581.7,313.1 L584.4,311.4 L587,309.1 L589.7,306.7 L592.4,304.9 L595.1,303.4 L597.8,302.9 L600.5,301.5 L603.2,298.6 L605.9,297.2 L608.5,294.4 L611.2,292.5 L613.9,292.5 L616.6,289 L619.3,287.3 L622,285 L624.7,281.2 L627.4,278.4 L630.1,276.5 L632.7,273.7 L635.4,271.3 L638.1,268.9 L640.8,267 L643.5,270.6 L646.2,269.4 L648.9,267.6 L651.6,265.3 L654.2,262.1 L656.9,262.7 L659.6,259.3 L662.3,259.7 L665,260.7 L667.7,261 L670.4,258.3 L673.1,268.4 L675.7,256.3 L678.4,256.1 L681.1,255 L683.8,256 L686.5,252.4 L689.2,249 L691.9,247 L694.6,245.3 L697.2,242.8 L699.9,240.3 L702.6,237.8 L705.3,234.6 L708,231.1 L710.7,228.3 L713.4,227.8 L716.1,222.3 L718.7,221.1 L721.4,216.7 L724.1,214.5 L726.8,212.7 L729.5,211.1 L732.2,209.5 L734.9,207.8 L737.6,204 L740.2,202.5 L742.9,203.9 L745.6,206.5 L748.3,200.5 L751,195.6" fill="none" stroke="#ffffff" stroke-width="2.5" stroke-linejoin="round" stroke-linecap="round"/><g stroke="#a2559c" fill="#a2559c"><path d="M71,393 L487.6,393 L554.8,335.6 L557.5,333.2 L560.2,330.5 L562.9,328.4 L565.5,326.2 L568.2,323.7 L570.9,321.3 L573.6,322.3 L576.3,320.2 L579,314.8 L581.7,313.1 L584.4,311.4 L587,309.1 L589.7,306.7 L592.4,304.9 L595.1,303.4 L597.8,302.9 L600.5,301.5 L603.2,298.6 L605.9,297.2 L608.5,294.4 L611.2,292.5 L613.9,292.5 L616.6,289 L619.3,287.3 L622,285 L624.7,281.2 L627.4,278.4 L630.1,276.5 L632.7,273.7 L635.4,271.3 L638.1,268.9 L640.8,267 L643.5,270.6 L646.2,269.4 L648.9,267.6 L651.6,265.3 L654.2,262.1 L656.9,262.7 L659.6,259.3 L662.3,259.7 L665,260.7 L667.7,261 L670.4,258.3 L673.1,268.4 L675.7,256.3 L678.4,256.1 L681.1,255 L683.8,256 L686.5,252.4 L689.2,249 L691.9,247 L694.6,245.3 L697.2,242.8 L699.9,240.3 L702.6,237.8 L705.3,234.6 L708,231.1 L710.7,228.3 L713.4,227.8 L716.1,222.3 L718.7,221.1 L721.4,216.7 L724.1,214.5 L726.8,212.7 L729.5,211.1 L732.2,209.5 L734.9,207.8 L737.6,204 L740.2,202.5 L742.9,203.9 L745.6,206.5 L748.3,200.5 L751,195.6" fill="none" stroke-width="1.5" stroke-linejoin="round" stroke-linecap="round"/><g stroke="none"><circle cx="71" cy="393" r="1.9"/><circle cx="487.6" cy="393" r="1.9"/><circle cx="554.8" cy="335.6" r="1.9"/><circle cx="557.5" cy="333.2" r="1.9"/><circle cx="560.2" cy="330.5" r="1.9"/><circle cx="562.9" cy="328.4" r="1.9"/><circle cx="565.5" cy="326.2" r="1.9"/><circle cx="568.2" cy="323.7" r="1.9"/><circle cx="570.9" cy="321.3" r="1.9"/><circle cx="573.6" cy="322.3" r="1.9"/><circle cx="576.3" cy="320.2" r="1.9"/><circle cx="579" cy="314.8" r="1.9"/><circle cx="581.7" cy="313.1" r="1.9"/><circle cx="584.4" cy="311.4" r="1.9"/><circle cx="587" cy="309.1" r="1.9"/><circle cx="589.7" cy="306.7" r="1.9"/><circle cx="592.4" cy="304.9" r="1.9"/><circle cx="595.1" cy="303.4" r="1.9"/><circle cx="597.8" cy="302.9" r="1.9"/><circle cx="600.5" cy="301.5" r="1.9"/><circle cx="603.2" cy="298.6" r="1.9"/><circle cx="605.9" cy="297.2" r="1.9"/><circle cx="608.5" cy="294.4" r="1.9"/><circle cx="611.2" cy="292.5" r="1.9"/><circle cx="613.9" cy="292.5" r="1.9"/><circle cx="616.6" cy="289" r="1.9"/><circle cx="619.3" cy="287.3" r="1.9"/><circle cx="622" cy="285" r="1.9"/><circle cx="624.7" cy="281.2" r="1.9"/><circle cx="627.4" cy="278.4" r="1.9"/><circle cx="630.1" cy="276.5" r="1.9"/><circle cx="632.7" cy="273.7" r="1.9"/><circle cx="635.4" cy="271.3" r="1.9"/><circle cx="638.1" cy="268.9" r="1.9"/><circle cx="640.8" cy="267" r="1.9"/><circle cx="643.5" cy="270.6" r="1.9"/><circle cx="646.2" cy="269.4" r="1.9"/><circle cx="648.9" cy="267.6" r="1.9"/><circle cx="651.6" cy="265.3" r="1.9"/><circle cx="654.2" cy="262.1" r="1.9"/><circle cx="656.9" cy="262.7" r="1.9"/><circle cx="659.6" cy="259.3" r="1.9"/><circle cx="662.3" cy="259.7" r="1.9"/><circle cx="665" cy="260.7" r="1.9"/><circle cx="667.7" cy="261" r="1.9"/><circle cx="670.4" cy="258.3" r="1.9"/><circle cx="673.1" cy="268.4" r="1.9"/><circle cx="675.7" cy="256.3" r="1.9"/><circle cx="678.4" cy="256.1" r="1.9"/><circle cx="681.1" cy="255" r="1.9"/><circle cx="683.8" cy="256" r="1.9"/><circle cx="686.5" cy="252.4" r="1.9"/><circle cx="689.2" cy="249" r="1.9"/><circle cx="691.9" cy="247" r="1.9"/><circle cx="694.6" cy="245.3" r="1.9"/><circle cx="697.2" cy="242.8" r="1.9"/><circle cx="699.9" cy="240.3" r="1.9"/><circle cx="702.6" cy="237.8" r="1.9"/><circle cx="705.3" cy="234.6" r="1.9"/><circle cx="708" cy="231.1" r="1.9"/><circle cx="710.7" cy="228.3" r="1.9"/><circle cx="713.4" cy="227.8" r="1.9"/><circle cx="716.1" cy="222.3" r="1.9"/><circle cx="718.7" cy="221.1" r="1.9"/><circle cx="721.4" cy="216.7" r="1.9"/><circle cx="724.1" cy="214.5" r="1.9"/><circle cx="726.8" cy="212.7" r="1.9"/><circle cx="729.5" cy="211.1" r="1.9"/><circle cx="732.2" cy="209.5" r="1.9"/><circle cx="734.9" cy="207.8" r="1.9"/><circle cx="737.6" cy="204" r="1.9"/><circle cx="740.2" cy="202.5" r="1.9"/><circle cx="742.9" cy="203.9" r="1.9"/><circle cx="745.6" cy="206.5" r="1.9"/><circle cx="748.3" cy="200.5" r="1.9"/><circle cx="751" cy="195.6" r="1.9"/></g></g>
<g stroke="#c4c4c4" stroke-width="1" fill="none"><path d="M755,114.4 H768.8 V111.1 H772"/><path d="M755,114.6 H768.8 V129.3 H772"/><path d="M755,124.3 H766.3 V147.5 H772"/><path d="M755,138.7 H763.4 V166.1 H772"/><path d="M755,145.6 H760.2 V184.3 H772"/><path d="M755,195.3 H757.4 V202.4 H772"/></g>
<g font-size="13.4"><text x="776.3" y="116" fill="#9a5129" textLength="46.9" lengthAdjust="spacingAndGlyphs">Oceania</text><text x="776.3" y="134" fill="#4c6a9c" textLength="40.7" lengthAdjust="spacingAndGlyphs">Europe</text><text x="776.3" y="152" fill="#c4523e" textLength="52.7" lengthAdjust="spacingAndGlyphs">Americas</text><text x="776.3" y="170" fill="#00847e" textLength="23.9" lengthAdjust="spacingAndGlyphs">Asia</text><text x="776.3" y="189" fill="#18470f" textLength="35" lengthAdjust="spacingAndGlyphs">World</text><text x="776.3" y="207" fill="#a2559c" textLength="34" lengthAdjust="spacingAndGlyphs">Africa</text></g>
<text x="16.8" y="581" font-size="13" font-weight="bold" fill="#858585" textLength="71.6" lengthAdjust="spacingAndGlyphs">Data source:</text>
<text x="92.3" y="581" font-size="13" fill="#858585" textLength="376.4" lengthAdjust="spacingAndGlyphs">Riley (2005); Zijdeman et al. (2015); HMD (2025); UN WPP (2024)</text>
<text x="696.3" y="581" font-size="13" fill="#858585" textLength="134.4" lengthAdjust="spacingAndGlyphs">life-expectancy | CC BY</text>
</svg>
</body></html>
